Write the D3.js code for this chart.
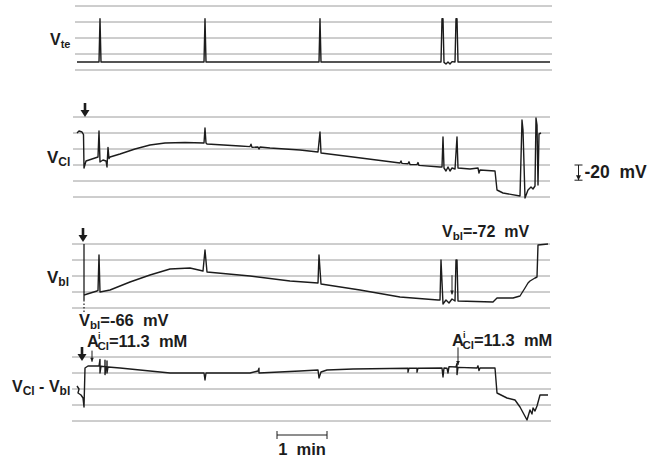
<!DOCTYPE html>
<html><head><meta charset="utf-8">
<script src="https://cdn.jsdelivr.net/npm/d3@7"></script>
<style>
html,body{margin:0;padding:0;background:#fff;}
svg{display:block;font-family:"Liberation Sans",Arial,Helvetica,sans-serif;font-weight:bold;}
</style></head>
<body>
<svg id="chart" width="653" height="461"></svg>
<script>
// ---- time axis (minutes) ----
const timeDomain = [0, 9.5];
const scaleBarMin = [4, 5];

// ---- grid levels (mV) per panel ----
const vteGrid = [-40, -20, 0, 20, 40];
const vclGrid = [-100, -80, -60, -40, -20, 0];
const vblGrid = [-80, -60, -40, -20, 0];
const diffGrid = [-80, -60, -40, -20, 0];

// ---- traces: [time (min), potential (mV)] ----
const vteTrace = [
  [0,-30],[0.44,-30],[0.46,24],[0.48,-30],
  [2.54,-30],[2.56,24],[2.58,-30],
  [4.84,-30],[4.86,24],[4.88,-30],
  [7.28,-30],[7.30,24],[7.32,24],[7.34,-30.5],[7.38,-32.5],[7.42,-30],[7.46,-32.5],[7.50,-29.5],[7.56,-30],[7.58,24],[7.60,24],[7.62,-30],
  [9.46,-30]
];
const vclTrace = [
  [0,-20],[0.04,-17.5],[0.10,-18.75],[0.13,-22],[0.14,-63.75],[0.18,-55],[0.36,-51.25],[0.42,-50],[0.44,-17.5],[0.46,-56.25],
  [0.52,-53.75],[0.58,-55],[0.60,-62.5],[0.62,-38],[0.64,-52],[0.66,-50],
  [0.86,-46.25],[1.16,-40],[1.46,-35],[1.76,-32.5],[2.16,-31.9],[2.54,-32.5],[2.56,-13.75],[2.58,-32.5],[2.60,-33.75],
  [3.26,-36.25],[3.46,-37],[3.48,-34],[3.50,-38],[3.62,-37.5],[3.64,-40],[3.66,-37.5],[3.86,-38.75],[4.46,-41.25],[4.82,-43.75],[4.86,-18.75],[4.88,-45],
  [5.52,-50],[6.46,-57.5],[6.48,-55],[6.50,-58],[6.62,-58.5],[6.64,-56],[6.66,-59.5],[6.80,-59.5],[6.82,-57],[6.84,-60.5],[7.26,-62.5],
  [7.30,-62.5],[7.32,-25],[7.34,-63.75],[7.38,-67.5],[7.42,-62.5],[7.46,-67.5],[7.50,-63.75],[7.56,-65],[7.60,-25],[7.62,-63.75],
  [7.86,-65],[8.02,-63.75],[8.04,-70],[8.06,-66.25],[8.36,-67.5],[8.40,-91.25],[8.52,-95],[8.86,-98.75],[8.90,-3.75],[8.92,-16.25],
  [8.96,-101.25],[9.02,-91.25],[9.08,-87.5],[9.12,-90],[9.16,-86.25],[9.18,-1.25],[9.20,-10],[9.22,-85],[9.24,-21.25],[9.28,-20]
];
const vblTrace = [
  [0.14,-63.75],[0.40,-58.75],[0.42,-58],[0.44,-13.75],[0.46,-60],[0.66,-57.5],[1.06,-47.5],[1.46,-38.75],[1.86,-31.25],[2.26,-30],
  [2.52,-33.75],[2.56,-7.5],[2.60,-35],[3.46,-40],[4.26,-46.25],[4.82,-48.75],[4.84,-13.75],[4.88,-50],[5.66,-57.5],[6.46,-66.25],
  [7.22,-70],[7.26,-70],[7.28,-20],[7.32,-75],[7.38,-70],[7.44,-73.75],[7.50,-68.75],[7.56,-71.25],[7.58,-20],[7.60,-20],[7.62,-71.25],
  [8.32,-72.5],[8.40,-67.5],[8.72,-67.5],[8.86,-65],[8.96,-55],[9.02,-48.75],[9.06,-46.25],[9.16,-42.5],[9.20,-41.25],[9.22,-1.25],[9.42,0]
];
const diffTrace = [
  [0,-36.25],[0.04,-40],[0.02,-45],[0.08,-47.5],[0.12,-51.25],[0.14,-62.5],[0.16,-13.75],[0.22,-11.25],[0.44,-11.25],
  [0.46,-3],[0.46,-20],[0.48,-11.5],[0.56,-12],[0.56,-4],[0.56,-22],[0.58,-12],[0.60,-12],[0.60,-5],[0.60,-20],[0.62,-12.5],
  [0.86,-13.75],[1.46,-17.5],[1.86,-20],[2.54,-20],[2.56,-28.75],[2.58,-20],[3.46,-20],[3.62,-17.5],[3.64,-14],[3.64,-20],
  [4.46,-17.5],[4.82,-16.25],[4.84,-26.25],[4.88,-18.75],[5.00,-16.25],[5.52,-15],[6.62,-14],[6.62,-19],[6.64,-14],[6.80,-14],
  [6.80,-19],[6.82,-14],[7.30,-13.75],[7.32,-25],[7.34,-13.75],[7.40,-14],[7.42,-20],[7.44,-12],[7.58,-12.5],[7.60,-8],[7.60,-22],
  [7.62,-13],[8.00,-13.75],[8.02,-11],[8.04,-17],[8.06,-13.75],[8.36,-13.75],[8.40,-45],[8.60,-51.25],[8.76,-53.75],[8.86,-62.5],
  [9.00,-78.75],[9.06,-66.25],[9.10,-71.25],[9.12,-63.75],[9.16,-67.5],[9.20,-61.25],[9.26,-47.5],[9.42,-47.5]
];

// ---- annotation markers ----
const bigArrows = [ {panel:"vcl", t:0.16, v:0}, {panel:"vbl", t:0.12, v:2.5}, {panel:"diff", t:0.10, v:-5} ];
const smallArrows = [ {panel:"diff", t:0.30, v1:8, v2:-6}, {panel:"diff", t:7.62, v1:12, v2:-10}, {panel:"vbl", t:7.50, v1:-39, v2:-63} ];
const vblMarker = {t:0.14, vTop:0, vSolid:-70, vDot:-85};
const calBar = {t:10.03, v1:-60, v2:-79, label:"-20  mV"};

const svg = d3.select("#chart");
const x = d3.scaleLinear().domain(timeDomain).range([77, 552]);

const panels = {
  vte:  {y: d3.scaleLinear().domain([-40,40]).range([70,6]),    grid: vteGrid,  trace: vteTrace,  gx:[75,552]},
  vcl:  {y: d3.scaleLinear().domain([-100,0]).range([197,117]), grid: vclGrid,  trace: vclTrace,  gx:[73,550]},
  vbl:  {y: d3.scaleLinear().domain([-80,0]).range([308,244]),  grid: vblGrid,  trace: vblTrace,  gx:[72,550]},
  diff: {y: d3.scaleLinear().domain([-80,0]).range([421,357]),  grid: diffGrid, trace: diffTrace, gx:[72,551]}
};

const gridColor = "#9c9c9c";
const ink = "#1c1c1c";

Object.values(panels).forEach(p => {
  svg.append("g").selectAll("line").data(p.grid).join("line")
    .attr("x1", p.gx[0]).attr("x2", p.gx[1])
    .attr("y1", d => p.y(d)).attr("y2", d => p.y(d))
    .attr("stroke", gridColor).attr("stroke-width", 1);
  const line = d3.line().x(d => x(d[0])).y(d => p.y(d[1]));
  svg.append("path").datum(p.trace).attr("d", line)
    .attr("fill", "none").attr("stroke", ink).attr("stroke-width", 1.4)
    .attr("stroke-linejoin", "round");
});

// Vbl start marker
{
  const p = panels.vbl;
  svg.append("line").attr("x1", x(vblMarker.t)).attr("x2", x(vblMarker.t))
    .attr("y1", p.y(vblMarker.vTop)).attr("y2", p.y(vblMarker.vSolid))
    .attr("stroke", ink).attr("stroke-width", 1.3);
  svg.append("line").attr("x1", x(vblMarker.t)).attr("x2", x(vblMarker.t))
    .attr("y1", p.y(vblMarker.vSolid)).attr("y2", p.y(vblMarker.vDot))
    .attr("stroke", ink).attr("stroke-width", 1.2).attr("stroke-dasharray", "1.5,2");
}

// big arrows
bigArrows.forEach(a => {
  const cx = x(a.t), ty = panels[a.panel].y(a.v);
  svg.append("line").attr("x1", cx).attr("x2", cx).attr("y1", ty - 14).attr("y2", ty - 5)
    .attr("stroke", ink).attr("stroke-width", 2.6);
  svg.append("path").attr("d", `M${cx-4.5},${ty-7} L${cx+4.5},${ty-7} L${cx},${ty} Z`).attr("fill", ink);
});

// small arrows
smallArrows.forEach(a => {
  const cx = x(a.t), y1 = panels[a.panel].y(a.v1), y2 = panels[a.panel].y(a.v2);
  svg.append("line").attr("x1", cx).attr("x2", cx).attr("y1", y1).attr("y2", y2)
    .attr("stroke", ink).attr("stroke-width", 1);
  svg.append("path").attr("d", `M${cx-1.8},${y2-4} L${cx+1.8},${y2-4} L${cx},${y2} Z`).attr("fill", ink);
});

// calibration bar
{
  const p = panels.vcl, cx = x(calBar.t), y1 = p.y(calBar.v1), y2 = p.y(calBar.v2);
  svg.append("line").attr("x1", cx-4).attr("x2", cx+4).attr("y1", y1).attr("y2", y1).attr("stroke", ink).attr("stroke-width", 1);
  svg.append("line").attr("x1", cx-4).attr("x2", cx+4).attr("y1", y2).attr("y2", y2).attr("stroke", ink).attr("stroke-width", 1);
  svg.append("line").attr("x1", cx).attr("x2", cx).attr("y1", y1).attr("y2", y2).attr("stroke", ink).attr("stroke-width", 1);
  svg.append("path").attr("d", `M${cx-2.5},${y2-5} L${cx+2.5},${y2-5} L${cx},${y2} Z`).attr("fill", ink);
  svg.append("text").attr("x", cx + 6).attr("y", y2 - 2).attr("font-size", 17.5)
    .attr("fill", ink).attr("xml:space", "preserve").text(calBar.label);
}

// time scale bar
{
  const y0 = 435, x1 = x(scaleBarMin[0]), x2 = x(scaleBarMin[1]);
  svg.append("line").attr("x1", x1).attr("x2", x2).attr("y1", y0).attr("y2", y0).attr("stroke", ink).attr("stroke-width", 1);
  [x1, x2].forEach(xx => svg.append("line").attr("x1", xx).attr("x2", xx).attr("y1", y0-4).attr("y2", y0+4).attr("stroke", ink).attr("stroke-width", 1));
  svg.append("text").attr("x", (x1 + x2) / 2).attr("y", 455).attr("text-anchor", "middle")
    .attr("font-size", 16.5).attr("fill", ink).attr("xml:space", "preserve").text("1  min");
}

// text labels with sub/superscripts
function label(xp, yp, parts, size) {
  const t = svg.append("text").attr("x", xp).attr("y", yp).attr("font-size", size).attr("fill", ink)
    .attr("xml:space", "preserve");
  parts.forEach(pt => {
    const s = t.append("tspan").text(pt.s);
    if (pt.fs) s.attr("font-size", pt.fs);
    if (pt.dy) s.attr("dy", pt.dy);
    if (pt.dx) s.attr("dx", pt.dx);
  });
}
label(50, 45, [{s:"V"},{s:"te", fs:11, dy:3}], 16);
label(47, 163, [{s:"V"},{s:"Cl", fs:12, dy:3}], 17);
label(47, 283, [{s:"V"},{s:"bl", fs:12, dy:3}], 17);
label(12, 392, [{s:"V"},{s:"Cl", fs:12, dy:3},{s:" - V", dy:-3},{s:"bl", fs:12, dy:3}], 16);
label(79, 326, [{s:"V"},{s:"bl", fs:11.5, dy:3},{s:"=-66  mV", dy:-3}], 16.5);
label(442, 237, [{s:"V"},{s:"bl", fs:11.5, dy:3},{s:"=-72  mV", dy:-3}], 16);
label(87, 347, [{s:"A"},{s:"i", fs:9, dy:-8, dx:-1},{s:"Cl", fs:11.5, dx:-3, dy:11},{s:"=11.3  mM", dy:-3}], 16.5);
label(452, 346, [{s:"A"},{s:"i", fs:9, dy:-8, dx:-1},{s:"Cl", fs:11.5, dx:-3, dy:11},{s:"=11.3  mM", dy:-3}], 16.5);
</script>
</body></html>
